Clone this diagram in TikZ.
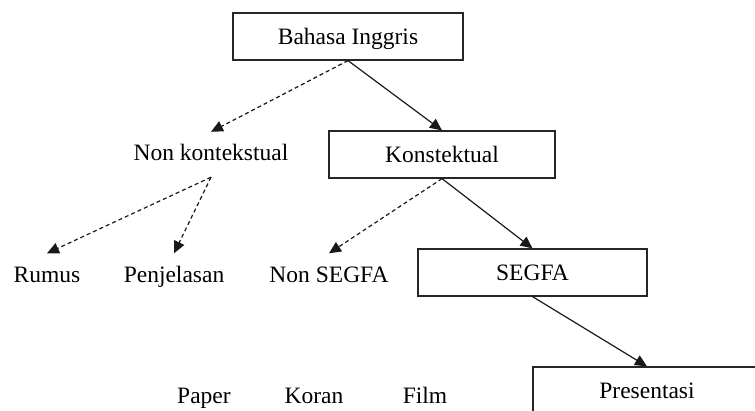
\documentclass[tikz,border=0pt]{standalone}
\usepackage{fontspec}
\setmainfont{Liberation Serif}
\usetikzlibrary{arrows.meta}
\begin{document}
\begin{tikzpicture}[x=1pt,y=-1pt,
  every node/.style={font=\fontsize{23.5}{27}\selectfont, text height=16pt, text depth=5pt, inner sep=0pt},
  box/.style={draw=black!85, line width=1.2pt, minimum width=230pt, minimum height=47pt, text height=18pt, text depth=3pt},
  lbl/.style={minimum height=46pt},
  conn/.style={line width=1.2pt, draw=black!90, -{Triangle[length=12pt,width=11pt]}},
  dconn/.style={conn, dash pattern=on 4pt off 3pt}]
\useasboundingbox (0,0) rectangle (755,410);
\clip (0,0) rectangle (755,410);
% nodes
\node[box] (bi) at (348,36.5) {Bahasa Inggris};
\node[lbl, minimum height=45pt] (nk) at (211,154.5) {Non kontekstual};
\node[box, minimum width=226pt] (ks) at (442,154.5) {Konstektual};
\node[lbl] (ru) at (47,276.5) {Rumus};
\node[lbl] (pj) at (174,276.5) {Penjelasan};
\node[lbl] (ns) at (329,276.5) {Non SEGFA};
\node[box, minimum width=229pt] (sg) at (532.5,272.5) {SEGFA};
\node[box, minimum width=228pt] (pr) at (647,390.5) {Presentasi};
\node (pa) at (204,397.5) {Paper};
\node (ko) at (314,397.5) {Koran};
\node (fi) at (425,397.5) {Film};
% connectors
\draw[dconn] (bi.south) -- (nk.north);
\draw[conn] (bi.south) -- (ks.north);
\draw[dconn] (nk.south) -- (ru.north);
\draw[dconn] (nk.south) -- (pj.north);
\draw[dconn] (ks.south) -- (ns.north);
\draw[conn] (ks.south) -- (sg.north);
\draw[conn] (sg.south) -- (pr.north);
\end{tikzpicture}
\end{document}
